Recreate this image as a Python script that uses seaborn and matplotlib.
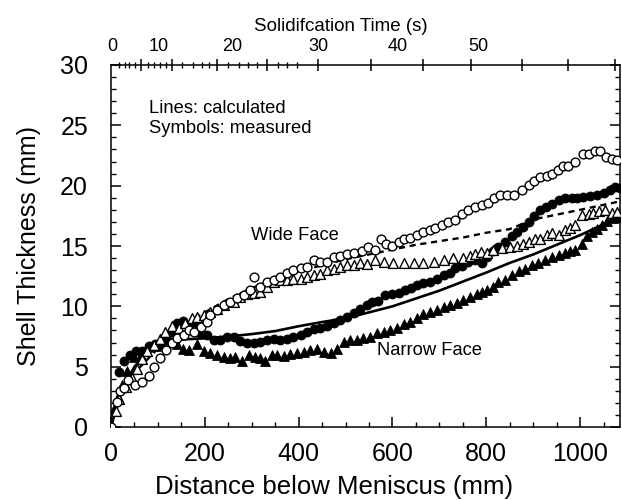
import matplotlib
matplotlib.use("Agg")
import matplotlib.pyplot as plt
import seaborn as sns
import pandas as pd
from matplotlib.ticker import MultipleLocator

# ---------------- data (distance below meniscus in mm, shell thickness in mm) -------------
wide_open_circle_x = [0, 13, 20, 27, 37, 52, 66, 80, 91, 105, 118, 130, 141, 155, 166, 176, 191, 205,
                      212, 226, 240, 254, 269, 283, 297, 304, 318, 333, 347, 361, 375, 389, 404, 418,
                      432, 446, 460, 475, 489, 503, 519, 535, 547, 563, 575, 587, 600, 613, 625, 638,
                      652, 666, 679, 691, 705, 719, 734, 748, 762, 776, 790, 804, 817, 830, 844, 858,
                      876, 890, 902, 915, 929, 940, 952, 964, 975, 989, 1007, 1018, 1032, 1043, 1055,
                      1067, 1078]
wide_open_circle_y = [0, 2.1, 3.0, 3.2, 3.9, 3.5, 3.7, 4.2, 5.0, 5.7, 6.4, 7.0, 7.4, 7.6, 8.0, 7.9, 8.3,
                      8.7, 9.3, 9.7, 10.1, 10.4, 10.65, 10.9, 11.35, 12.45, 11.6, 12.0, 12.2, 12.4, 12.8,
                      13.0, 13.2, 13.3, 13.8, 13.7, 13.7, 14.05, 14.15, 14.3, 14.4, 14.6, 14.9, 14.7,
                      15.55, 15.2, 15.0, 15.35, 15.55, 15.7, 15.9, 16.2, 16.3, 16.5, 16.7, 17.0, 17.15,
                      17.65, 18.0, 18.25, 18.4, 18.6, 18.95, 19.2, 19.2, 19.2, 19.6, 20.05, 20.4, 20.7,
                      20.8, 21.0, 21.3, 21.6, 21.6, 22.0, 22.6, 22.6, 22.9, 22.9, 22.4, 22.2, 22.1]

wide_open_tri_x = [0, 10, 17, 31, 45, 56, 66, 77, 91, 104, 116, 130, 144, 158, 173, 183, 198, 212, 226,
                   240, 262, 276, 290, 304, 318, 333, 347, 361, 375, 389, 404, 418, 432, 446, 460, 475,
                   489, 503, 517, 531, 546, 563, 581, 602, 624, 645, 666, 688, 709, 730, 751, 766, 776,
                   788, 801, 815, 833, 851, 865, 879, 890, 904, 915, 929, 940, 954, 968, 979, 989, 1004,
                   1018, 1028, 1041, 1054, 1067, 1078]
wide_open_tri_y = [0, 1.3, 2.3, 3.3, 4.1, 4.8, 5.6, 6.3, 6.8, 7.3, 7.9, 8.4, 8.2, 8.6, 9.0, 9.1, 9.3,
                   9.5, 9.8, 10.1, 10.4, 10.8, 11.05, 11.1, 11.2, 11.6, 12.0, 12.2, 12.2, 12.25, 12.3,
                   12.45, 12.6, 12.7, 13.0, 13.1, 13.3, 13.4, 13.4, 13.55, 13.5, 13.8, 13.7, 13.6, 13.6,
                   13.6, 13.6, 13.7, 13.8, 14.0, 14.0, 14.2, 14.3, 14.5, 14.4, 14.7, 14.8, 14.9, 15.0,
                   15.2, 15.35, 15.55, 15.6, 15.9, 16.05, 15.9, 16.3, 16.5, 16.7, 17.55, 17.65, 17.7,
                   17.9, 18.0, 17.7, 17.85]

narrow_fill_circle_x = [17, 27, 40, 54, 66, 80, 93, 105, 118, 130, 141, 154, 166, 180, 191, 205, 219, 233,
                        247, 262, 276, 290, 304, 318, 333, 347, 361, 375, 389, 404, 418, 432, 446, 460,
                        475, 489, 503, 517, 531, 545, 557, 570, 585, 599, 613, 627, 640, 652, 666, 681,
                        695, 709, 723, 734, 748, 762, 776, 791, 801, 815, 826, 840, 855, 865, 878, 890,
                        902, 915, 928, 940, 954, 968, 982, 993, 1007, 1021, 1036, 1050, 1064, 1074, 1085]
narrow_fill_circle_y = [4.55, 5.5, 6.0, 6.3, 6.3, 6.7, 6.9, 7.0, 7.2, 7.9, 8.6, 8.8, 8.4, 8.6, 7.7, 7.6,
                        7.25, 7.2, 7.45, 7.5, 7.15, 7.0, 7.0, 7.05, 7.2, 7.3, 7.2, 7.3, 7.5, 7.6, 7.85,
                        8.1, 8.2, 8.4, 8.65, 8.85, 9.1, 9.45, 9.8, 10.1, 10.35, 10.45, 10.9, 11.05, 11.1,
                        11.35, 11.5, 11.75, 11.9, 12.0, 12.3, 12.6, 12.8, 13.15, 13.35, 13.7, 13.8, 13.6,
                        14.1, 14.6, 14.9, 15.35, 15.8, 16.2, 16.6, 17.0, 17.5, 18.0, 18.25, 18.5, 18.8,
                        18.95, 18.95, 18.95, 19.1, 19.15, 19.2, 19.4, 19.6, 19.9, 19.8]

narrow_fill_tri_x = [0, 6, 15, 24, 35, 49, 63, 77, 95, 109, 127, 141, 154, 166, 183, 198, 212, 226, 240,
                     254, 265, 279, 294, 308, 318, 329, 343, 354, 368, 382, 397, 411, 425, 439, 453, 468,
                     482, 496, 510, 524, 538, 553, 567, 581, 595, 610, 624, 638, 652, 666, 681, 695, 709,
                     723, 737, 751, 766, 780, 791, 801, 815, 826, 840, 855, 869, 883, 897, 911, 925, 940,
                     954, 968, 979, 989, 1004, 1014, 1025, 1036, 1046, 1057, 1071, 1082]
narrow_fill_tri_y = [0, 1.5, 2.5, 3.5, 4.6, 5.8, 5.95, 6.6, 6.7, 6.9, 7.05, 6.9, 6.5, 6.35, 6.9, 6.3,
                     6.1, 5.95, 5.8, 5.7, 5.8, 5.5, 5.95, 5.8, 5.7, 5.5, 5.95, 5.95, 5.9, 6.05, 6.1, 6.2,
                     6.35, 6.5, 6.2, 6.1, 6.5, 7.05, 7.2, 7.2, 7.35, 7.5, 7.75, 7.9, 8.0, 8.2, 8.55, 8.7,
                     9.0, 9.4, 9.55, 9.7, 9.95, 10.1, 10.25, 10.5, 10.75, 11.0, 11.2, 11.35, 11.6, 12.0,
                     12.2, 12.6, 12.9, 13.1, 13.4, 13.6, 13.8, 14.1, 14.25, 14.4, 14.6, 14.65, 15.2, 15.8,
                     16.2, 16.45, 16.7, 17.1, 17.3, 17.4]

wide_calc_x = [0, 20, 50, 100, 150, 200, 250, 300, 350, 400, 450, 500, 550, 600, 650, 700, 750, 800,
               850, 900, 950, 1000, 1085]
wide_calc_y = [0, 2.5, 4.5, 6.5, 8.3, 9.5, 10.6, 11.5, 12.3, 12.9, 13.4, 13.9, 14.3, 14.7, 15.1, 15.4,
               15.7, 16.1, 16.4, 17.2, 17.6, 18.0, 18.7]

narrow_calc_x = [0, 20, 50, 80, 110, 150, 200, 250, 300, 350, 400, 450, 500, 550, 600, 650, 700, 750,
                 800, 850, 900, 950, 1000, 1050, 1085]
narrow_calc_y = [0, 2.8, 5.0, 6.3, 7.0, 7.25, 7.35, 7.5, 7.7, 7.95, 8.35, 8.7, 9.0, 9.5, 10.0, 10.65,
                 11.3, 12.05, 12.8, 13.6, 14.3, 15.1, 15.9, 16.8, 17.57]

x_ticks = [0, 200, 400, 600, 800, 1000]
y_ticks = [0, 5, 10, 15, 20, 25, 30]

# top (solidification time) axis: tick marks and labels, positioned in mm
time_major_mm = [64, 130, 227, 333, 442, 555, 666, 768, 876, 974, 1074]
time_minor_mm = [16, 29, 39, 52, 78, 91, 105, 118, 152, 174, 195, 208, 250, 272, 293, 312, 355, 376, 397]
time_label_mm = [2, 101, 259, 442, 612, 783]
time_labels = ["0", "10", "20", "30", "40", "50"]

# ---------------- figure -------------
sns.set_style("ticks")
plt.rcParams['font.family'] = ['Liberation Sans', 'DejaVu Sans']
plt.rcParams['axes.linewidth'] = 1.1
for k in ('text.color', 'axes.labelcolor', 'xtick.color', 'ytick.color',
          'xtick.labelcolor', 'ytick.labelcolor', 'axes.edgecolor'):
    plt.rcParams[k] = 'black'

fig = plt.figure(figsize=(6.22, 5.0), dpi=100)
ax = fig.add_axes([111 / 622, 73 / 500, 509 / 622, 362 / 500])

sns.lineplot(x=wide_calc_x, y=wide_calc_y, ax=ax, color='black', linewidth=1.7,
             linestyle=(0, (2.6, 2.0)), zorder=2)
sns.lineplot(x=narrow_calc_x, y=narrow_calc_y, ax=ax, color='black', linewidth=1.9, zorder=2)

sns.scatterplot(x=narrow_fill_tri_x, y=narrow_fill_tri_y, ax=ax, marker='^', s=50,
                color='black', edgecolor='black', linewidth=0.6, zorder=3)
sns.scatterplot(x=narrow_fill_circle_x, y=narrow_fill_circle_y, ax=ax, marker='o', s=42,
                color='black', edgecolor='black', linewidth=0.6, zorder=3)
sns.scatterplot(x=wide_open_tri_x, y=wide_open_tri_y, ax=ax, marker='^', s=50,
                color='white', edgecolor='black', linewidth=1.0, zorder=4)
sns.scatterplot(x=wide_open_circle_x, y=wide_open_circle_y, ax=ax, marker='o', s=40,
                color='white', edgecolor='black', linewidth=1.0, zorder=4)

ax.set_xlim(0, 1085)
ax.set_ylim(0, 30)
ax.set_xticks(x_ticks)
ax.set_yticks(y_ticks)
ax.xaxis.set_minor_locator(MultipleLocator(50))
ax.yaxis.set_minor_locator(MultipleLocator(1))
for s in ax.spines.values():
    s.set_visible(True)
    s.set_color('black')

# top axis: tick marks
ax2 = ax.twiny()
ax2.set_xlim(ax.get_xlim())
ax2.set_xticks(time_major_mm)
ax2.set_xticks(time_minor_mm, minor=True)
ax2.tick_params(axis='x', which='major', direction='inout', length=8, width=1.1, labeltop=False,
                color='black')
ax2.tick_params(axis='x', which='minor', direction='inout', length=4, width=1.0, color='black')
# top axis: labels
ax3 = ax.twiny()
ax3.set_xlim(ax.get_xlim())
ax3.set_xticks(time_label_mm)
ax3.set_xticklabels(time_labels)
ax3.tick_params(axis='x', which='major', length=0, pad=7, labelsize=13, labelcolor='black')
ax3.tick_params(axis='x', which='minor', length=0)
ax3.set_xlabel("Solidifcation Time (s)", fontsize=13.5, labelpad=5, x=0.452, color='black')
for a in (ax2, ax3):
    for s in a.spines.values():
        s.set_visible(False)

# main axis ticks (after twins are created)
ax.tick_params(axis='both', which='major', direction='in', length=7.5, width=1.1,
               labelsize=18, colors='black')
ax.tick_params(axis='both', which='minor', direction='in', length=3.8, width=1.0, colors='black')
ax.tick_params(axis='y', which='both', right=True, left=True, labelleft=True, labelright=False)
ax.tick_params(axis='x', which='both', top=False, bottom=True)
ax.xaxis.set_tick_params(which='major', pad=11)
ax.yaxis.set_tick_params(which='major', pad=16.5)
ax.set_xlabel("Distance below Meniscus (mm)", fontsize=18.5, labelpad=6, x=0.438, color='black')
ax.set_ylabel("Shell Thickness (mm)", fontsize=18, color='black')
ax.yaxis.set_label_coords(-0.1375, 0.5)

# annotations
ax.text(80, 26.0, "Lines: calculated", fontsize=13.2, va='baseline', ha='left', color='black')
ax.text(80, 24.35, "Symbols: measured", fontsize=13.2, va='baseline', ha='left', color='black')
ax.text(299, 15.5, "Wide Face", fontsize=13.2, va='baseline', ha='left', color='black')
ax.text(567, 5.95, "Narrow Face", fontsize=13.2, va='baseline', ha='left', color='black')

fig.savefig("out.png", dpi=100)
